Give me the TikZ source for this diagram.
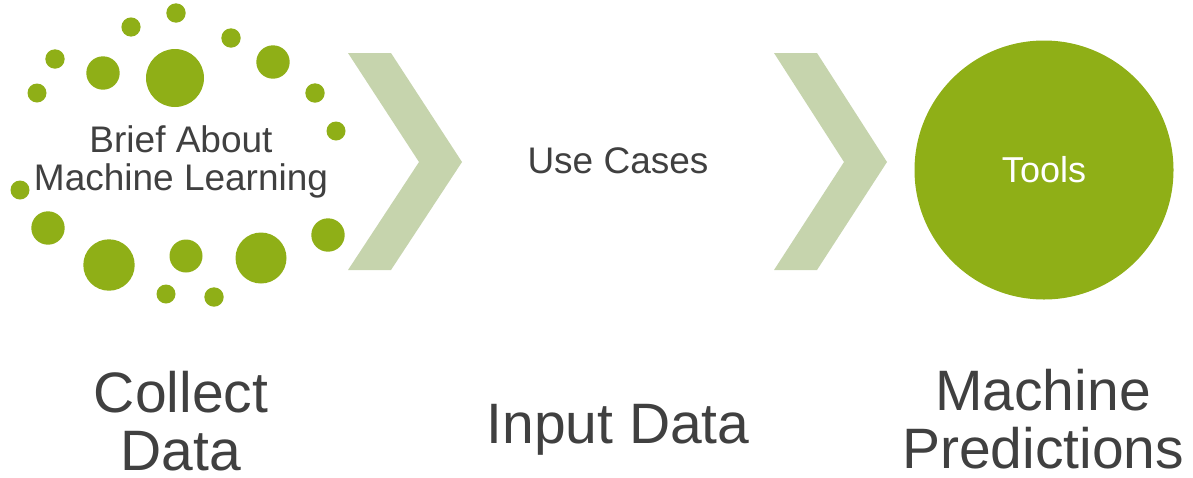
\documentclass[tikz,border=0pt]{standalone}
\usepackage{fontspec}
\setmainfont{Liberation Sans}

\definecolor{leafgreen}{RGB}{143,175,23}
\definecolor{palegreen}{RGB}{198,212,173}
\definecolor{textgray}{RGB}{64,64,64}

\begin{document}
\begin{tikzpicture}[x=1pt, y=-1pt,
  dot/.style={fill=leafgreen},
  chevron/.style={fill=palegreen},
  smalltext/.style={text=textgray, font=\fontsize{37}{38}\selectfont, align=center, inner sep=0pt},
  bigtext/.style={text=textgray, font=\fontsize{57}{58}\selectfont, align=center, inner sep=0pt}]

\useasboundingbox (0,0) rectangle (1193,477);

% Draw the ring of dots
\foreach \x/\y/\r in {176/13/9.7, 131/27/9.6, 231/38/9.7, 55/59/9.7,
    103/73/16.7, 175/78/29, 273/62/16.7, 37/93/9.5, 315/93/9.7,
    336/131/9.5, 20/190/9.5, 48/228/16.7, 328/235/16.7, 109/265/25.7,
    186/256/16.5, 261/258/25.5, 166/294/9.5, 214/297/9.7}
  \fill [dot] (\x,\y) circle (\r pt);

\node [smalltext] (brief) at (181,162) {Brief About\\Machine Learning};

% Draw the two chevrons
\fill [chevron] (348,53) -- (391,53) -- (462,162) -- (391,270) -- (348,270) -- (419,162) -- cycle;
\fill [chevron] (774,53) -- (817,53) -- (887,162) -- (817,270) -- (774,270) -- (844,162) -- cycle;

\node [smalltext] (usecases) at (618,161) {Use Cases};

\node [circle, fill=leafgreen, minimum size=259pt, inner sep=0pt, text=white,
       font=\fontsize{36}{38}\selectfont] (tools) at (1044,170) {Tools};

% Step titles
\node [bigtext] (collect) at (181,421) {Collect\\Data};
\node [bigtext, anchor=base] (input) at (618,443) {Input Data};
\node [bigtext] (predict) at (1043,419) {Machine\\Predictions};

\end{tikzpicture}
\end{document}
